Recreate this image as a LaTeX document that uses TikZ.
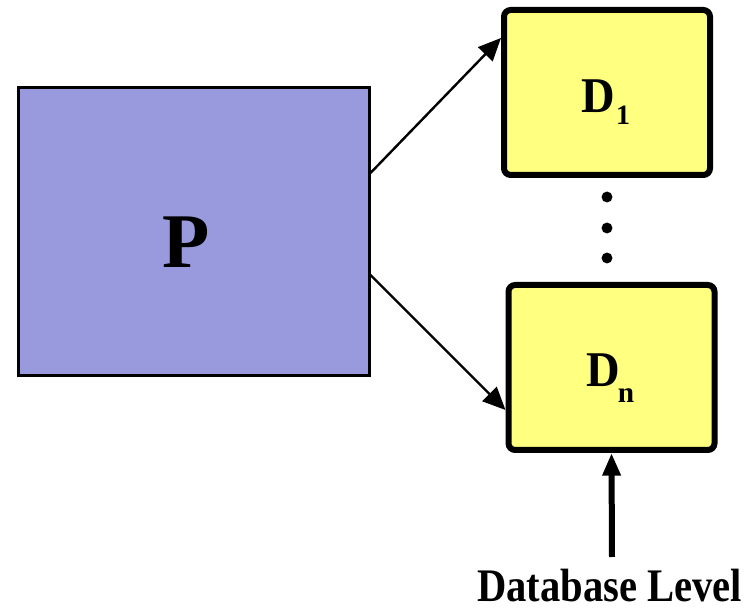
\documentclass[tikz,border=0pt]{standalone}
\usepackage{fontspec}
\setmainfont{Liberation Serif}
\usetikzlibrary{arrows.meta}
\definecolor{procblue}{HTML}{9999DD}
\definecolor{dbyellow}{HTML}{FFFF80}

\begin{document}
\begin{tikzpicture}[x=0.75pt,y=-0.75pt]
\tikzstyle{proc}=[draw,fill=procblue,line width=2.25pt,minimum width=263.25pt,minimum height=216pt,inner sep=0pt]
\tikzstyle{db}=[draw,fill=dbyellow,line width=4.5pt,rounded corners=5pt,minimum width=154.5pt,minimum height=123.75pt,inner sep=0pt]
\tikzstyle{dbname}=[font=\bfseries\fontsize{37.5}{40}\selectfont,anchor=base west,inner sep=0pt]
\tikzstyle{link}=[line width=1.8pt,-{Triangle[length=17pt,width=15pt]}]
\tikzstyle{uplink}=[line width=4.5pt,-{Triangle[length=17pt,width=13pt]}]
\useasboundingbox (0,0) rectangle (747,609);
% boxes
\node [proc] (P) at (193.5,232) {};
\node [db] (D1) at (607,92.5) {};
\node [db] (Dn) at (611.5,367.5) {};
% labels
\node [font=\bfseries\fontsize{58}{60}\selectfont,anchor=base,inner sep=0pt] (Plabel) at (186,268) {P};
\node [dbname] (D1label) at (581,113) {\scalebox{0.93}[1]{D}\kern1pt\raisebox{-9pt}{\fontsize{21}{23}\selectfont 1}};
\node [dbname] (Dnlabel) at (586,387) {\scalebox{0.93}[1]{D}\kern-1.5pt\raisebox{-12pt}{\fontsize{22}{24}\selectfont n}};
\node [font=\bfseries\fontsize{35}{38}\selectfont,anchor=base,inner sep=0pt] (level) at (609.5,602) {\scalebox{0.87}[1]{Database Level}};
% dots
\foreach \y in {197,228,258}
    \fill (607,\y) circle (4.1pt);
% arrows
\draw [link] ([yshift=44.25pt]P.east) -- ([yshift=-23.25pt]D1.north west);
\draw [link] ([yshift=-32.25pt]P.east) -- ([yshift=32.25pt]Dn.south west);
\coordinate (leveltop) at (612,557);
\draw [uplink] (leveltop) -- (Dn.south);
\end{tikzpicture}
\end{document}
